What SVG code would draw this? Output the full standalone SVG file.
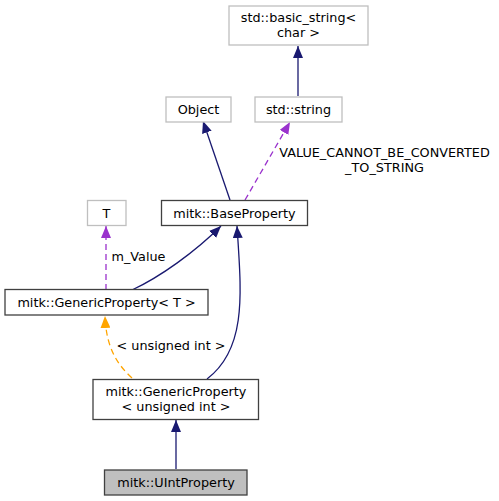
<svg xmlns="http://www.w3.org/2000/svg" width="499" height="501" viewBox="0 0 499 501">
<style>
text{font-family:"DejaVu Sans","Noto Sans",sans-serif;font-size:12.8px;fill:#000;text-anchor:middle}
.n rect{fill:#fff;stroke:#404040;stroke-width:1.3}
.g rect{fill:#fff;stroke:#bfbfbf;stroke-width:1.3}
.cur rect{fill:#bfbfbf;stroke:#404040;stroke-width:1.3}
.e{fill:none;stroke-width:1.3}
.blue{stroke:#191970}
.purple{stroke:#9a32cd;stroke-dasharray:6,4}
.orange{stroke:#ffa500;stroke-dasharray:6,4}
</style>
<defs>
<marker id="aB" viewBox="0 0 12 10" refX="12" refY="5" markerWidth="12" markerHeight="10" markerUnits="userSpaceOnUse" orient="auto"><path d="M0,0L12,5L0,10z" fill="#191970"/></marker>
<marker id="aP" viewBox="0 0 12 10" refX="12" refY="5" markerWidth="12" markerHeight="10" markerUnits="userSpaceOnUse" orient="auto"><path d="M0,0L12,5L0,10z" fill="#9a32cd"/></marker>
<marker id="aO" viewBox="0 0 12 10" refX="12" refY="5" markerWidth="12" markerHeight="10" markerUnits="userSpaceOnUse" orient="auto"><path d="M0,0L12,5L0,10z" fill="#ffa500"/></marker>
</defs>
<rect width="499" height="501" fill="#fff"/>
<g id="connectors">
<path class="e blue" d="M298,96V46" marker-end="url(#aB)"/>
<path class="e blue" d="M230,200L203,121" marker-end="url(#aB)"/>
<path class="e purple" d="M245,200L290,122" marker-end="url(#aP)"/>
<path class="e blue" d="M132,290C160,277 195,252 221,226" marker-end="url(#aB)"/>
<path class="e purple" d="M106,290V226" marker-end="url(#aP)"/>
<path class="e blue" d="M207,379C248,348 241,290 237,226" marker-end="url(#aB)"/>
<path class="e orange" d="M132,378C112,360 106,340 105,316" marker-end="url(#aO)"/>
<path class="e blue" d="M176,469V420" marker-end="url(#aB)"/>
<text x="384.5" y="157">VALUE_CANNOT_BE_CONVERTED</text>
<text x="384.5" y="172">_TO_STRING</text>
<text x="138.5" y="261">m_Value</text>
<text x="171" y="350">&lt; unsigned int &gt;</text>
</g>
<g id="node-basic-string" class="g"><rect x="229" y="6" width="139" height="39"/><text x="298.5" y="22">std::basic_string&lt;</text><text x="298.5" y="37">char &gt;</text></g>
<g id="node-object" class="g"><rect x="166" y="97" width="65" height="25"/><text x="198.5" y="113.5">Object</text></g>
<g id="node-std-string" class="g"><rect x="255" y="97" width="87" height="25"/><text x="298.5" y="113.5">std::string</text></g>
<g id="node-baseproperty" class="n"><rect x="161.5" y="200.5" width="146" height="25"/><text x="234.5" y="217.5">mitk::BaseProperty</text></g>
<g id="node-T" class="g"><rect x="87.5" y="200.5" width="38.5" height="25"/><text x="106.5" y="217.5">T</text></g>
<g id="node-genericproperty-T" class="n"><rect x="5" y="289.5" width="203" height="25.5"/><text x="106.5" y="306.5">mitk::GenericProperty&lt; T &gt;</text></g>
<g id="node-genericproperty-uint" class="n"><rect x="93" y="379.5" width="165.5" height="40"/><text x="176" y="395.5">mitk::GenericProperty</text><text x="176" y="410.5">&lt; unsigned int &gt;</text></g>
<g id="node-uintproperty" class="cur"><rect x="104.5" y="470" width="142.5" height="25"/><text x="176" y="486.5">mitk::UIntProperty</text></g>
</svg>
